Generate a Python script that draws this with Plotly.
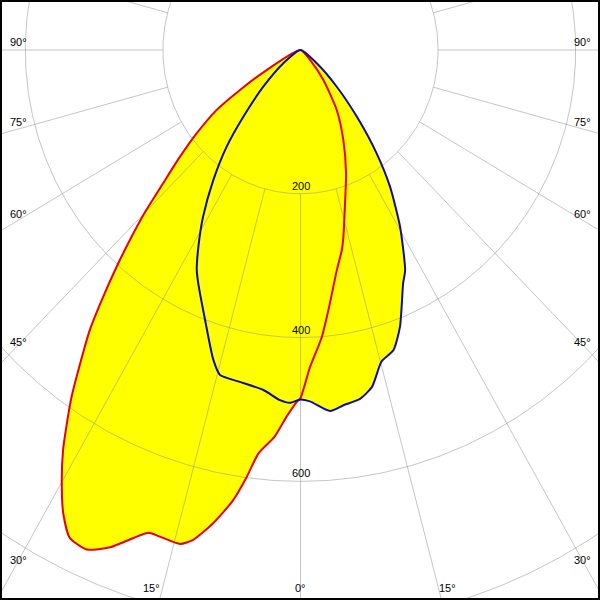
import numpy as np
import plotly.graph_objects as go

# C0-C180 plane (red) : angle from nadir in degrees (negative = left), intensity cd/klm
red_angles = [-90, -60.5, -57.7, -55.6, -52.5, -49.7, -47.1, -45.1, -43.2, -41.75, -39.9, -38.2,
              -36.3, -34.6, -33.0, -31.8, -30.1, -28.15, -26.3, -24.1, -21.8, -19.7, -18.2,
              -16.8, -14.3, -12.9, -10.9, -8.9, -7.5, -6.2, -4.0, -2.25, -0.6, 0, 1.8, 4.4,
              6.9, 9.75, 12.15, 13.5, 16.5, 21.1, 26.4, 32.2, 38.5, 44.8, 90]
red_values = [0, 56, 104, 148, 190, 230, 273, 318, 362, 398, 447, 495,
              541, 586, 625, 655, 692, 731, 757, 761, 745, 721, 707,
              707, 709, 699, 670, 634, 599, 564, 539, 510, 489, 484, 441, 401,
              355, 311, 285, 267, 227, 184, 140, 99, 53, 20, 0]

# C90-C270 plane (blue)
blue_angles = [-90, -53.5, -46.7, -41.8, -38.6, -35.0, -31.4, -28.5, -26.25, -24.6, -20.3,
               -16.4, -14.5, -10.8, -6.5, -3.5, -1.8, 0, 1.6, 4.9, 7.2, 10.1, 12.5, 15.2,
               17.9, 20.6, 24.7, 26.4, 30.5, 34.4, 37.6, 41.4, 45.9, 51.8, 90]
blue_values = [0, 31, 74, 125, 172, 221, 272, 311, 341, 357, 400,
               449, 467, 470, 476, 488, 491, 486, 489, 504, 498, 493, 480, 449,
               439, 411, 357, 342, 285, 230, 181, 124, 73, 30, 0]

ring_values = [200, 400, 600, 800, 1000]
ring_labels = ["200", "400", "600"]
spoke_angles = list(range(-180, 181, 15))
angle_label_left = ["90°", "75°", "60°", "45°", "30°"]
angle_label_bottom = ["15°", "0°", "15°"]


def to_xy(angles, values):
    a = np.radians(np.asarray(angles, dtype=float))
    v = np.asarray(values, dtype=float)
    return v * np.sin(a), -v * np.cos(a)


fig = go.Figure()

rx, ry = to_xy(red_angles, red_values)
bx, by = to_xy(blue_angles, blue_values)

# fills
for x, y in ((rx, ry), (bx, by)):
    fig.add_trace(go.Scatter(x=x, y=y, mode="lines", fill="toself",
                             fillcolor="#ffff00", line=dict(width=0, shape="spline", smoothing=0.6),
                             hoverinfo="skip", showlegend=False))

# grid on top (semi-transparent)
grid_color = "rgba(150,150,150,0.55)"
t = np.linspace(0, 360, 721)
for rv in ring_values:
    gx, gy = to_xy(t, [rv] * len(t))
    fig.add_trace(go.Scatter(x=gx, y=gy, mode="lines", line=dict(color=grid_color, width=1),
                             hoverinfo="skip", showlegend=False))
for a in spoke_angles:
    sx, sy = to_xy([a, a], [200, 1200])
    fig.add_trace(go.Scatter(x=sx, y=sy, mode="lines", line=dict(color=grid_color, width=1),
                             hoverinfo="skip", showlegend=False))

# curves
fig.add_trace(go.Scatter(x=rx, y=ry, mode="lines",
                         line=dict(color="#e80000", width=2, shape="spline", smoothing=0.6),
                         name="C0-C180", showlegend=False))
fig.add_trace(go.Scatter(x=bx, y=by, mode="lines",
                         line=dict(color="#0c0caa", width=2, shape="spline", smoothing=0.6),
                         name="C90-C270", showlegend=False))

font = dict(family="Liberation Sans, Arial, sans-serif", size=11, color="black")

# ring value labels
for lab in ring_labels:
    fig.add_annotation(x=0, y=-float(lab), text=lab, showarrow=False, xanchor="center",
                       yanchor="bottom", yshift=0, font=font)

# angle labels at the border (pixel positions in a 600x600 frame)
left_y = [42, 122, 214, 342, 560]
for lab, py in zip(angle_label_left, left_y):
    fig.add_annotation(xref="paper", yref="paper", x=18 / 600, y=1 - py / 600, text=lab,
                       showarrow=False, xanchor="center", yanchor="middle", font=font)
    fig.add_annotation(xref="paper", yref="paper", x=582 / 600, y=1 - py / 600, text=lab,
                       showarrow=False, xanchor="center", yanchor="middle", font=font)
for lab, px in zip(angle_label_bottom, [151, 300, 447]):
    fig.add_annotation(xref="paper", yref="paper", x=px / 600, y=1 - 588 / 600, text=lab,
                       showarrow=False, xanchor="center", yanchor="middle", font=font)

fig.add_shape(type="rect", xref="paper", yref="paper", x0=0, y0=0, x1=1, y1=1,
              line=dict(color="black", width=4), layer="above")

fig.update_layout(
    width=600, height=600, margin=dict(l=0, r=0, t=0, b=0),
    paper_bgcolor="white", plot_bgcolor="white",
    xaxis=dict(range=[-436.8, 435.3], visible=False, fixedrange=True),
    yaxis=dict(range=[-765, 69.5], visible=False, fixedrange=True),
    showlegend=False,
)

fig.write_html(
    "out.html",
    config={"displayModeBar": False},
    post_script="document.body.style.margin='0';document.body.style.padding='0';"
                "document.body.style.overflow='hidden';",
)
